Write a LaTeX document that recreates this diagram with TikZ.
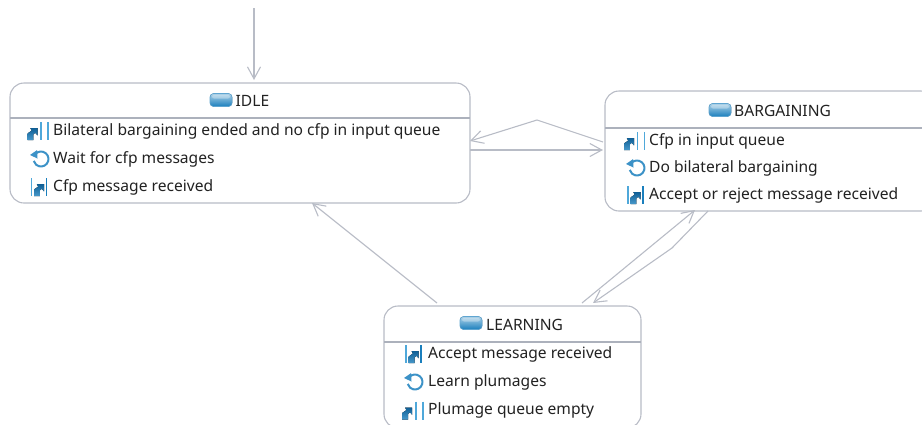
\documentclass[tikz,border=0pt]{standalone}
\usepackage{fontspec}
\setmainfont{Noto Sans}
\usetikzlibrary{arrows.meta}
\definecolor{edgec}{HTML}{B8BCC6}
\definecolor{boxc}{HTML}{B8BCC6}
\definecolor{sepc}{HTML}{ACB1BC}
\definecolor{txt}{HTML}{222222}
\definecolor{iconc}{HTML}{1A7FBD}
\definecolor{icond}{HTML}{0F5F96}
\definecolor{barc}{HTML}{4FA8DA}
\tikzset{
  x=1pt,y=-1pt,
  statebox/.style={draw=boxc,line width=1.1pt,rounded corners=14pt,fill=white,inner sep=0pt,outer sep=0pt,anchor=north west},
  sepline/.style={draw=sepc,line width=1.3pt},
  conn/.style={draw=edgec,line width=1.1pt,-{Straight Barb[length=12pt,width=13pt,line width=1.1pt]}},
  lab/.style={anchor=west,inner sep=0pt,yshift=-0.8pt,text=txt,font=\fontsize{15.6}{18}\selectfont},
  ttl/.style={anchor=west,inner sep=0pt,yshift=-0.5pt,text=txt,font=\fontsize{15.6}{18}\selectfont},
  pill/.pic={
    \fill[top color=iconc!35!white,bottom color=iconc,rounded corners=3.5pt,draw=iconc!70!white,line width=0.6pt] (-11,-6.5) rectangle (11,6.5);
    \fill[white,opacity=.3,rounded corners=2pt] (-9,-5) rectangle (9,-1.5);
  },
  arrowmark/.pic={
    \fill[top color=icond,bottom color=iconc!80!white] (-5,7) -- (-5,0.5) -- (-0.8,-2.4) -- (-2.2,-5) -- (5,-5) -- (5,2.4) -- (2.8,-0.2) -- (0.8,1.4) -- (0.8,7) -- cycle;
  },
  entryicon/.pic={
    \pic at (-5.5,2) {arrowmark};
    \draw[barc,line width=1.8pt] (3,-9) -- (3,9);
    \draw[barc,line width=1.8pt] (10,-9) -- (10,9);
  },
  exiticon/.pic={
    \draw[barc,line width=1.8pt] (-7.5,-9) -- (-7.5,9);
    \pic at (0,2) {arrowmark};
    \draw[iconc,line width=1.8pt] (7.5,-9) -- (7.5,9);
  },
  loopicon/.pic={
    \draw[iconc!85!white,line width=2pt] (-5.75,-4.82) arc[start angle=220,end angle=525,radius=7.5];
    \fill[iconc!85!white] (-11,-4) -- (-3.8,-9) -- (-3.5,-0.5) -- cycle;
  }
}
\begin{document}
\begin{tikzpicture}
\useasboundingbox (0,0) rectangle (922,424);
\begin{scope}
\clip (0,0) rectangle (922,424);
\node[statebox,minimum width=460pt,minimum height=120pt] (idle) at (10,83) {};
\node[statebox,minimum width=330pt,minimum height=120pt] (barg) at (605,91) {};
\node[statebox,minimum width=257pt,minimum height=122pt] (learn) at (384,306) {};
\draw[sepline] (idle.west |- 0,118) coordinate (is) -- (idle.east |- 0,118) coordinate (ie);
\draw[sepline] (barg.west |- 0,128) coordinate (bs) -- (barg.east |- 0,128) coordinate (be);
\draw[sepline] (learn.west |- 0,342) coordinate (ls) -- (learn.east |- 0,342) coordinate (le);

\pic at (221,100) {pill};
\node[ttl] (idlet) at (235.5,100) {IDLE};
\pic at (38,131) {entryicon};
\node[lab] (i1) at (53,131) {Bilateral bargaining ended and no cfp in input queue};
\pic at (41,159) {loopicon};
\node[lab] (i2) at (53,159) {Wait for cfp messages};
\pic at (39,187) {exiticon};
\node[lab] (i3) at (53,187) {Cfp message received};

\pic at (720,110) {pill};
\node[ttl] (bargt) at (734,110) {BARGAINING};
\pic at (634.5,141) {entryicon};
\node[lab] (b1) at (649,141) {Cfp in input queue};
\pic at (637,168) {loopicon};
\node[lab] (b2) at (649,168) {Do bilateral bargaining};
\pic at (635.5,195) {exiticon};
\node[lab] (b3) at (649,195) {Accept or reject message received};

\pic at (471,323) {pill};
\node[ttl] (learnt) at (486,324) {LEARNING};
\pic at (413.7,354) {exiticon};
\node[lab] (l1) at (428,354) {Accept message received};
\pic at (415,382) {loopicon};
\node[lab] (l2) at (428,382) {Learn plumages};
\pic at (412.7,410.5) {entryicon};
\node[lab] (l3) at (428,410) {Plumage queue empty};

\coordinate (start) at (254,8);
\coordinate (idleIn) at (254,80);
\coordinate (b2iS) at (603,142);
\coordinate (b2iM) at (537,120);
\coordinate (b2iE) at (470,141);
\coordinate (i2bS) at (470,150);
\coordinate (i2bE) at (603,150);
\coordinate (l2iS) at (437,303);
\coordinate (l2iE) at (312,203);
\coordinate (l2bS) at (582,303);
\coordinate (l2bE) at (695,210);
\coordinate (b2lS) at (708,211);
\coordinate (b2lM) at (672,248);
\coordinate (b2lE) at (593,303);
\draw[conn] (start) -- (idleIn);
\draw[conn] (b2iS) -- (b2iM) -- (b2iE);
\draw[conn] (i2bS) -- (i2bE);
\draw[conn] (l2iS) -- (l2iE);
\draw[conn] (l2bS) -- (l2bE);
\draw[conn] (b2lS) -- (b2lM) -- (b2lE);
\end{scope}
\end{tikzpicture}
\end{document}
